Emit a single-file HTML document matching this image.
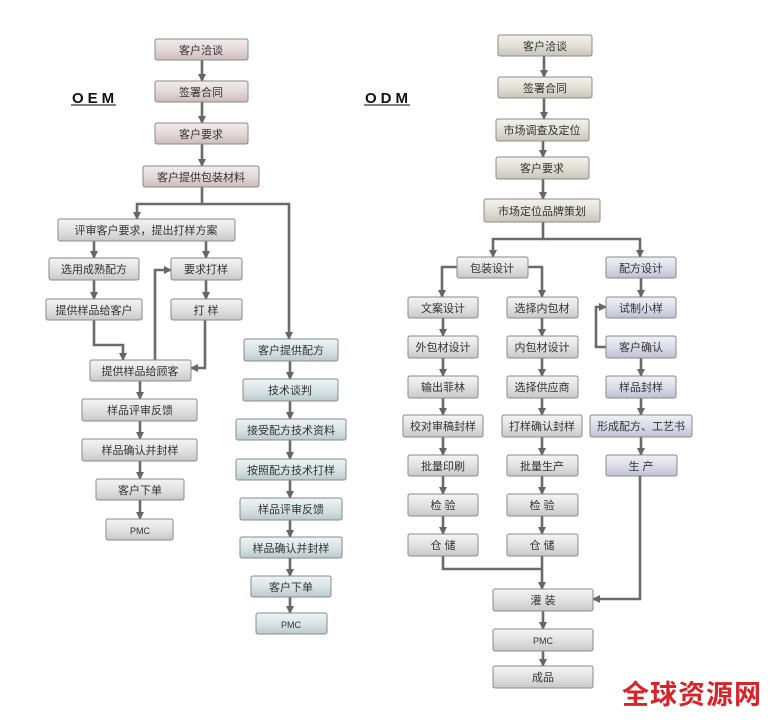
<!DOCTYPE html>
<html><head><meta charset="utf-8"><style>
html,body{margin:0;padding:0;background:#fff;}
svg text{font-family:"Liberation Sans","Noto Sans CJK SC",sans-serif;}
</style></head><body>
<svg width="775" height="719" viewBox="0 0 775 719" xmlns="http://www.w3.org/2000/svg">
<defs>
<linearGradient id="gG" x1="0" y1="0" x2="0" y2="1"><stop offset="0" stop-color="#f4f4f4"/><stop offset="0.5" stop-color="#e2e2e2"/><stop offset="1" stop-color="#c8c8c8"/></linearGradient>
<linearGradient id="gP" x1="0" y1="0" x2="0" y2="1"><stop offset="0" stop-color="#f3eded"/><stop offset="0.5" stop-color="#e4d8d8"/><stop offset="1" stop-color="#cbbcbc"/></linearGradient>
<linearGradient id="gB" x1="0" y1="0" x2="0" y2="1"><stop offset="0" stop-color="#eef4f5"/><stop offset="0.5" stop-color="#d9e4e6"/><stop offset="1" stop-color="#bccacd"/></linearGradient>
<linearGradient id="gY" x1="0" y1="0" x2="0" y2="1"><stop offset="0" stop-color="#f3f2ec"/><stop offset="0.5" stop-color="#e2e0d6"/><stop offset="1" stop-color="#c8c6ba"/></linearGradient>
<linearGradient id="gL" x1="0" y1="0" x2="0" y2="1"><stop offset="0" stop-color="#f0f0f6"/><stop offset="0.5" stop-color="#dcdcea"/><stop offset="1" stop-color="#c0c0d2"/></linearGradient>
<marker id="ar" markerWidth="8" markerHeight="8" refX="7" refY="4" orient="auto" markerUnits="userSpaceOnUse"><path d="M0,0 L8,4 L0,8 Z" fill="#666"/></marker>
</defs>
<g fill="none" stroke="#6a6a6a" stroke-width="2.6" marker-end="url(#ar)">
<!-- OEM main -->
<path d="M202 60 V81"/><path d="M202 102 V123"/><path d="M202 144 V166"/>
<path d="M202 187 V204 H137 V219"/>
<path d="M202 204 H289 V339"/>
<path d="M94 241 V258"/><path d="M206 241 V258"/>
<path d="M94 280 V299"/><path d="M206 280 V299"/>
<path d="M94 320 V345 H123 V360"/>
<path d="M155 360 V270 H171"/>
<path d="M205 320 V368 H191"/>
<path d="M140 381 V399"/><path d="M140 421 V439"/><path d="M140 461 V479"/><path d="M140 500 V519"/>
<path d="M290 361 V379"/><path d="M290 401 V419"/><path d="M290 440 V459"/><path d="M290 480 V498"/><path d="M290 520 V537"/><path d="M290 558 V576"/><path d="M290 597 V613"/>
<!-- ODM -->
<path d="M544 56 V77"/><path d="M544 98 V119"/><path d="M543 141 V157"/><path d="M543 179 V199"/>
<path d="M543 222 V239 H493 V257"/>
<path d="M543 239 H640 V257"/>
<path d="M457 267 H442 V297"/><path d="M528 267 H542 V297"/>
<path d="M641 278 V297"/>
<path d="M443 318 V336"/><path d="M542 318 V336"/>
<path d="M606 347 H596 V307 H606"/>
<path d="M641 358 V376"/>
<path d="M443 358 V376"/><path d="M542 358 V376"/>
<path d="M443 398 V415"/><path d="M542 398 V415"/><path d="M641 398 V415"/>
<path d="M443 437 V455"/><path d="M542 437 V455"/><path d="M641 437 V455"/>
<path d="M443 476 V494"/><path d="M542 476 V494"/>
<path d="M443 516 V534"/><path d="M542 516 V534"/>
<path d="M443 556 V569 H542" marker-end="none"/>
<path d="M542 556 V589"/>
<path d="M640 476 V599 H593"/>
<path d="M543 611 V629"/><path d="M543 651 V666"/>
</g>
<g stroke="#8a8a8a" stroke-width="1" font-size="11" text-anchor="middle" fill="#333">
<!-- boxes: x,y,w,h -->
<rect x="155" y="39" width="93" height="21" rx="2" fill="url(#gP)"/>
<rect x="155" y="81" width="93" height="21" rx="2" fill="url(#gP)"/>
<rect x="155" y="123" width="93" height="21" rx="2" fill="url(#gP)"/>
<rect x="143" y="166" width="116" height="21" rx="2" fill="url(#gP)"/>
<rect x="58" y="219" width="177" height="22" rx="2" fill="url(#gG)"/>
<rect x="49" y="258" width="90" height="22" rx="2" fill="url(#gG)"/>
<rect x="171" y="258" width="71" height="22" rx="2" fill="url(#gG)"/>
<rect x="46" y="299" width="96" height="21" rx="2" fill="url(#gG)"/>
<rect x="171" y="299" width="71" height="21" rx="2" fill="url(#gG)"/>
<rect x="90" y="360" width="101" height="21" rx="2" fill="url(#gG)"/>
<rect x="82" y="399" width="115" height="22" rx="2" fill="url(#gG)"/>
<rect x="82" y="439" width="115" height="22" rx="2" fill="url(#gG)"/>
<rect x="96" y="479" width="88" height="21" rx="2" fill="url(#gG)"/>
<rect x="106" y="519" width="67" height="21" rx="2" fill="url(#gG)"/>
<rect x="244" y="339" width="94" height="22" rx="2" fill="url(#gB)"/>
<rect x="243" y="379" width="95" height="22" rx="2" fill="url(#gB)"/>
<rect x="236" y="419" width="110" height="21" rx="2" fill="url(#gB)"/>
<rect x="236" y="459" width="110" height="21" rx="2" fill="url(#gB)"/>
<rect x="240" y="498" width="102" height="22" rx="2" fill="url(#gB)"/>
<rect x="240" y="537" width="102" height="21" rx="2" fill="url(#gB)"/>
<rect x="251" y="576" width="80" height="21" rx="2" fill="url(#gB)"/>
<rect x="256" y="613" width="71" height="21" rx="2" fill="url(#gB)"/>
<rect x="498" y="35" width="94" height="21" rx="2" fill="url(#gY)"/>
<rect x="498" y="77" width="94" height="21" rx="2" fill="url(#gY)"/>
<rect x="496" y="119" width="93" height="22" rx="2" fill="url(#gY)"/>
<rect x="496" y="157" width="93" height="22" rx="2" fill="url(#gY)"/>
<rect x="484" y="199" width="116" height="23" rx="2" fill="url(#gY)"/>
<rect x="457" y="257" width="71" height="21" rx="2" fill="url(#gG)"/>
<rect x="606" y="257" width="70" height="21" rx="2" fill="url(#gL)"/>
<rect x="408" y="297" width="70" height="21" rx="2" fill="url(#gG)"/>
<rect x="507" y="297" width="71" height="21" rx="2" fill="url(#gG)"/>
<rect x="606" y="297" width="70" height="21" rx="2" fill="url(#gL)"/>
<rect x="408" y="336" width="70" height="22" rx="2" fill="url(#gG)"/>
<rect x="507" y="336" width="71" height="22" rx="2" fill="url(#gG)"/>
<rect x="606" y="336" width="70" height="22" rx="2" fill="url(#gL)"/>
<rect x="408" y="376" width="70" height="22" rx="2" fill="url(#gG)"/>
<rect x="507" y="376" width="71" height="22" rx="2" fill="url(#gG)"/>
<rect x="606" y="376" width="70" height="22" rx="2" fill="url(#gL)"/>
<rect x="403" y="415" width="80" height="22" rx="2" fill="url(#gG)"/>
<rect x="502" y="415" width="80" height="22" rx="2" fill="url(#gG)"/>
<rect x="590" y="415" width="102" height="22" rx="2" fill="url(#gL)"/>
<rect x="408" y="455" width="70" height="21" rx="2" fill="url(#gG)"/>
<rect x="507" y="455" width="71" height="21" rx="2" fill="url(#gG)"/>
<rect x="606" y="455" width="71" height="21" rx="2" fill="url(#gL)"/>
<rect x="408" y="494" width="70" height="22" rx="2" fill="url(#gG)"/>
<rect x="507" y="494" width="71" height="22" rx="2" fill="url(#gG)"/>
<rect x="408" y="534" width="70" height="22" rx="2" fill="url(#gG)"/>
<rect x="507" y="534" width="71" height="22" rx="2" fill="url(#gG)"/>
<rect x="493" y="589" width="100" height="22" rx="2" fill="url(#gG)"/>
<rect x="493" y="629" width="100" height="22" rx="2" fill="url(#gG)"/>
<rect x="493" y="666" width="100" height="22" rx="2" fill="url(#gG)"/>
</g>
<g font-size="11" text-anchor="middle" fill="#333">
<text x="201" y="54">客户洽谈</text>
<text x="201" y="96">签署合同</text>
<text x="201" y="138">客户要求</text>
<text x="201" y="181">客户提供包装材料</text>
<text x="146" y="234">评审客户要求，提出打样方案</text>
<text x="94" y="273">选用成熟配方</text>
<text x="206" y="273">要求打样</text>
<text x="94" y="314">提供样品给客户</text>
<text x="206" y="314">打 样</text>
<text x="140" y="375">提供样品给顾客</text>
<text x="140" y="414">样品评审反馈</text>
<text x="140" y="454">样品确认并封样</text>
<text x="140" y="494">客户下单</text>
<text x="140" y="534" font-size="9">PMC</text>
<text x="291" y="354">客户提供配方</text>
<text x="290" y="394">技术谈判</text>
<text x="291" y="434">接受配方技术资料</text>
<text x="291" y="474">按照配方技术打样</text>
<text x="291" y="513">样品评审反馈</text>
<text x="291" y="552">样品确认并封样</text>
<text x="291" y="591">客户下单</text>
<text x="291" y="628" font-size="9">PMC</text>
<text x="545" y="50">客户洽谈</text>
<text x="545" y="92">签署合同</text>
<text x="542" y="134">市场调查及定位</text>
<text x="542" y="172">客户要求</text>
<text x="542" y="215">市场定位品牌策划</text>
<text x="492" y="272">包装设计</text>
<text x="641" y="272">配方设计</text>
<text x="443" y="312">文案设计</text>
<text x="542" y="312">选择内包材</text>
<text x="641" y="312">试制小样</text>
<text x="443" y="351">外包材设计</text>
<text x="542" y="351">内包材设计</text>
<text x="641" y="351">客户确认</text>
<text x="443" y="391">输出菲林</text>
<text x="542" y="391">选择供应商</text>
<text x="641" y="391">样品封样</text>
<text x="443" y="430">校对审稿封样</text>
<text x="542" y="430">打样确认封样</text>
<text x="641" y="430">形成配方、工艺书</text>
<text x="443" y="470">批量印刷</text>
<text x="542" y="470">批量生产</text>
<text x="641" y="470">生 产</text>
<text x="443" y="509">检 验</text>
<text x="542" y="509">检 验</text>
<text x="443" y="549">仓 储</text>
<text x="542" y="549">仓 储</text>
<text x="543" y="604">灌 装</text>
<text x="543" y="644" font-size="9">PMC</text>
<text x="543" y="681">成品</text>
</g>
<g font-size="15" font-weight="bold" fill="#111" letter-spacing="4">
<text x="72" y="103">OEM</text>
<text x="365" y="103">ODM</text>
</g>
<line x1="71" y1="105" x2="116" y2="105" stroke="#333" stroke-width="1.2"/>
<line x1="364" y1="105" x2="410" y2="105" stroke="#333" stroke-width="1.2"/>
<text x="622" y="704" font-size="27" font-weight="bold" fill="#d8232a" style="font-family:'Noto Sans CJK SC',sans-serif" letter-spacing="1">全球资源网</text>
</svg>
</body></html>
